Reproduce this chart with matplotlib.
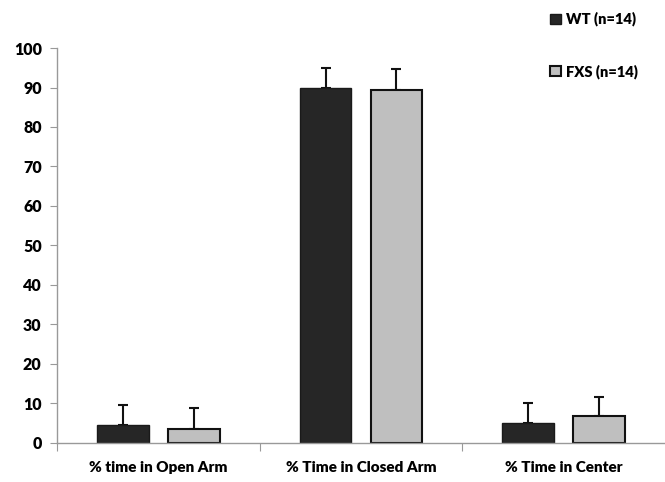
import matplotlib
matplotlib.use("Agg")
import matplotlib.pyplot as plt
import numpy as np

# Data
categories = ["% time in Open Arm", "% Time in Closed Arm", "% Time in Center"]
wt_mean = [4.6, 89.9, 5.0]
wt_err = [5.0, 5.0, 5.1]
fxs_mean = [3.5, 89.4, 6.8]
fxs_err = [5.4, 5.3, 4.8]
yticks = list(range(0, 101, 10))

plt.rcParams["font.family"] = ["Lato", "DejaVu Sans"]
plt.rcParams["font.weight"] = "heavy"

fig = plt.figure(figsize=(6.65, 4.82), dpi=100)
ax = fig.add_axes([0.0857, 0.081, 0.9143, 0.8194])

x = np.arange(len(categories))
w = 0.256
off = 0.175

ax.bar(x - off, wt_mean, w, color="#262626", edgecolor="#1a1a1a", linewidth=1.0,
       label="WT (n=14)", zorder=2)
ax.bar(x + off, fxs_mean, w, color="#bfbfbf", edgecolor="#111111", linewidth=1.5,
       label="FXS (n=14)", zorder=2)

# upper error bars only
ax.errorbar(x - off, wt_mean, yerr=[np.zeros(3), wt_err], fmt="none", ecolor="#111111",
            elinewidth=1.5, capsize=3.5, capthick=1.5, zorder=1)
ax.errorbar(x + off, fxs_mean, yerr=[np.zeros(3), fxs_err], fmt="none", ecolor="#111111",
            elinewidth=1.5, capsize=3.5, capthick=1.5, zorder=1)

ax.set_xlim(-0.5, 2.5)
ax.set_ylim(0, 100)
ax.set_yticks(yticks)
ax.tick_params(axis="y", labelsize=11.5, length=5, color="#999999", pad=6)

# boundary ticks (no labels) and category labels at centers
ax.set_xticks([-0.5, 0.5, 1.5])
ax.set_xticklabels([])
ax.tick_params(axis="x", which="major", length=6, color="#999999")
ax.set_xticks(x, minor=True)
ax.set_xticklabels(categories, minor=True)
ax.tick_params(axis="x", which="minor", length=0, labelsize=11, pad=13)

for s in ["top", "right"]:
    ax.spines[s].set_visible(False)
for s in ["left", "bottom"]:
    ax.spines[s].set_color("#999999")
    ax.spines[s].set_linewidth(1.0)

ax.legend(loc="upper left", bbox_to_anchor=(0.79, 1.125), frameon=False,
          handlelength=0.7, handleheight=0.7, handletextpad=0.4,
          labelspacing=2.6, fontsize=10.5)

fig.savefig("out.png", dpi=100)
